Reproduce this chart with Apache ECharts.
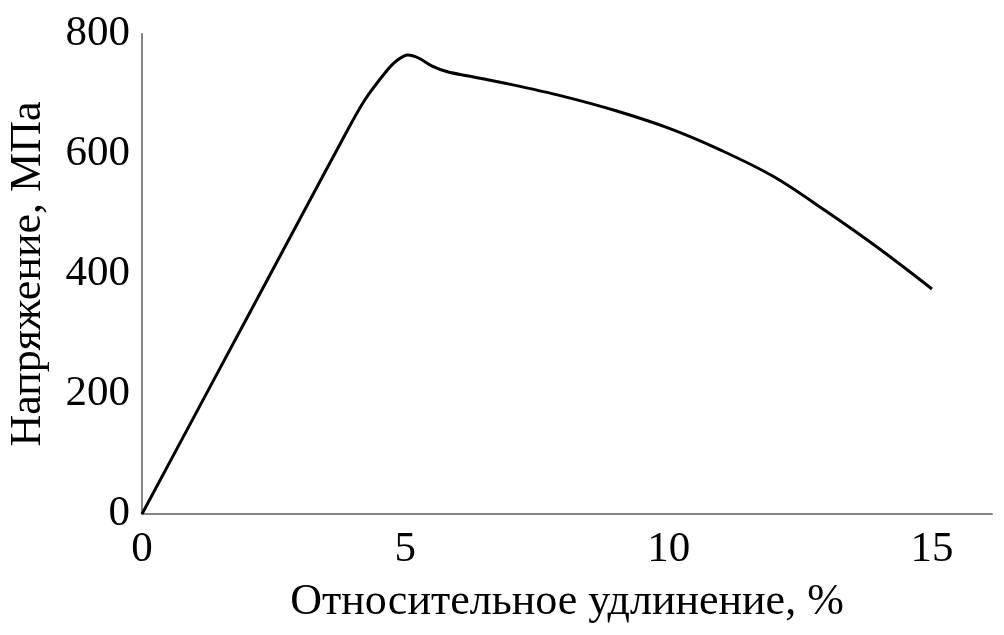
<!DOCTYPE html>
<html>
<head>
<meta charset="utf-8">
<script src="https://cdn.jsdelivr.net/npm/echarts@6/dist/echarts.min.js"></script>
<style>
html,body{margin:0;padding:0;background:#fff;}
#c{width:1004px;height:635px;}
</style>
</head>
<body>
<div id="c"></div>
<script>
const strain = [0, 1, 2, 3, 3.8, 4.23, 4.64, 4.83, 5.05, 5.25, 5.5, 5.8, 6.2, 7.0, 8.0, 9.0, 10.0, 11.0, 12.0, 13.0, 14.0, 15.0];
const stress = [0, 164, 328, 492, 623, 690, 738, 755, 765, 760, 747, 737, 730, 716, 696, 672, 643, 606, 562, 504, 442, 375];
const xTicks = [0, 5, 10, 15];
const yTicks = [0, 200, 400, 600, 800];
const xTitle = 'Относительное удлинение, %';
const yTitle = 'Напряжение, МПа';

const chart = echarts.init(document.getElementById('c'));
const font = 'Liberation Serif';
chart.setOption({
  animation: false,
  backgroundColor: '#fff',
  grid: {left: 142, right: 12, top: 34, bottom: 121, containLabel: false, outerBoundsMode: 'none'},
  xAxis: {
    type: 'value', min: xTicks[0], max: 16.14, interval: 5,
    name: xTitle, nameLocation: 'middle', nameGap: 66,
    nameTextStyle: {fontFamily: font, fontSize: 44, color: '#000'},
    axisLine: {lineStyle: {color: '#868686', width: 2}},
    axisTick: {show: false},
    splitLine: {show: false},
    axisLabel: {fontFamily: font, fontSize: 43, color: '#000', margin: 14, showMaxLabel: false}
  },
  yAxis: {
    type: 'value', min: yTicks[0], max: yTicks[yTicks.length-1], interval: 200,
    name: yTitle, nameLocation: 'middle', nameGap: 92,
    nameTextStyle: {fontFamily: font, fontSize: 44, color: '#000'},
    axisLine: {show: true, lineStyle: {color: '#868686', width: 2}},
    axisTick: {show: false},
    splitLine: {show: false},
    axisLabel: {fontFamily: font, fontSize: 43, color: '#000', margin: 12}
  },
  series: [{
    type: 'line',
    data: strain.map((x, i) => [x, stress[i]]),
    showSymbol: false,
    smooth: 0.35,
    lineStyle: {color: '#000', width: 3}
  }]
});
</script>
</body>
</html>
